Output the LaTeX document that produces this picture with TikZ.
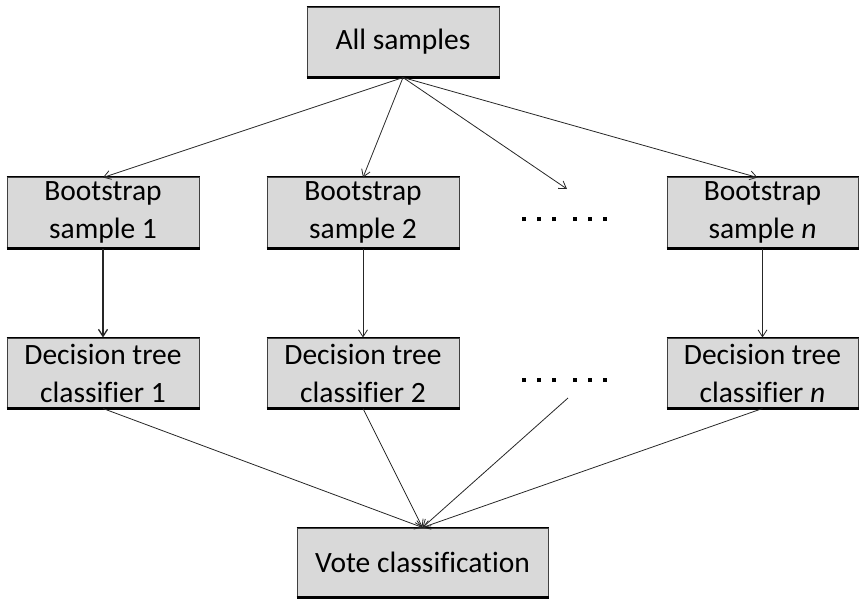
\documentclass[tikz,border=0pt]{standalone}
\usepackage{fontspec}
\setmainfont[Ligatures=NoCommon]{Carlito}
\usetikzlibrary{arrows.meta}
\newcommand{\sq}{\rule{4pt}{4pt}}
\begin{document}
\begin{tikzpicture}[x=1pt,y=-1pt,
  box/.style={draw=black!75, line width=1pt, fill=black!15, inner sep=0pt,
    align=center, font=\fontsize{29.5}{38}\selectfont,
    append after command={\pgfextra{\let\bx\tikzlastnode}
      (\bx.south west) edge[draw=black, line width=2.2pt, -] (\bx.south east)
      (\bx.north west) edge[draw=black, line width=1pt, -] (\bx.north east)}},
  link/.style={draw=black!85, line width=0.8pt, -{Straight Barb[length=7pt,width=9pt]}},
  dots/.style={inner sep=0pt}]
\useasboundingbox (0,0) rectangle (859,598);
% boxes: centre, width, height
\node[box, minimum width=192, minimum height=70] (all) at (403,42) {All samples};
\node[box, minimum width=192, minimum height=71] (b1) at (103,212.5) {Bootstrap\\sample 1};
\node[box, minimum width=192, minimum height=71] (b2) at (363,212.5) {Bootstrap\\sample 2};
\node[box, minimum width=191, minimum height=71] (bn) at (762.5,212.5) {Bootstrap\\sample \textit{n}};
\node[box, minimum width=192, minimum height=70] (d1) at (103,373) {Decision tree\\classifier 1};
\node[box, minimum width=192, minimum height=70] (d2) at (363,373) {Decision tree\\classifier 2};
\node[box, minimum width=191, minimum height=70] (dn) at (762.5,373) {Decision tree\\classifier \textit{n}};
\node[box, minimum width=251, minimum height=69] (vote) at (422.5,562.5) {Vote classification};
% ellipses standing for the omitted trees
\node[dots] (dotsA) at (564,219) {\sq\hspace{11pt}\sq\hspace{11pt}\sq\hspace{17pt}\sq\hspace{11pt}\sq\hspace{11pt}\sq};
\node[dots] (dotsB) at (564,380) {\sq\hspace{11pt}\sq\hspace{11pt}\sq\hspace{17pt}\sq\hspace{11pt}\sq\hspace{11pt}\sq};
\coordinate (midT) at (567,189);
\coordinate (midB) at (568,398);
\coordinate (src) at (all.south);
\coordinate (dst) at (vote.north);
% sampling
\draw[link] (src) -- ([yshift=-1pt]b1.north);
\draw[link] (src) -- ([yshift=-1pt]b2.north);
\draw[link] (src) -- (midT);
\draw[link] (src) -- ([xshift=-5pt,yshift=-1pt]bn.north);
% training
\draw[link, line width=1.3pt] (b1) -- (d1);
\draw[link] (b2) -- (d2);
\draw[link] (bn) -- (dn);
% voting
\draw[link] (d1.south) -- (dst);
\draw[link] (d2.south) -- (dst);
\draw[link] (midB) -- (dst);
\draw[link] (dn.south) -- (dst);
\end{tikzpicture}
\end{document}
